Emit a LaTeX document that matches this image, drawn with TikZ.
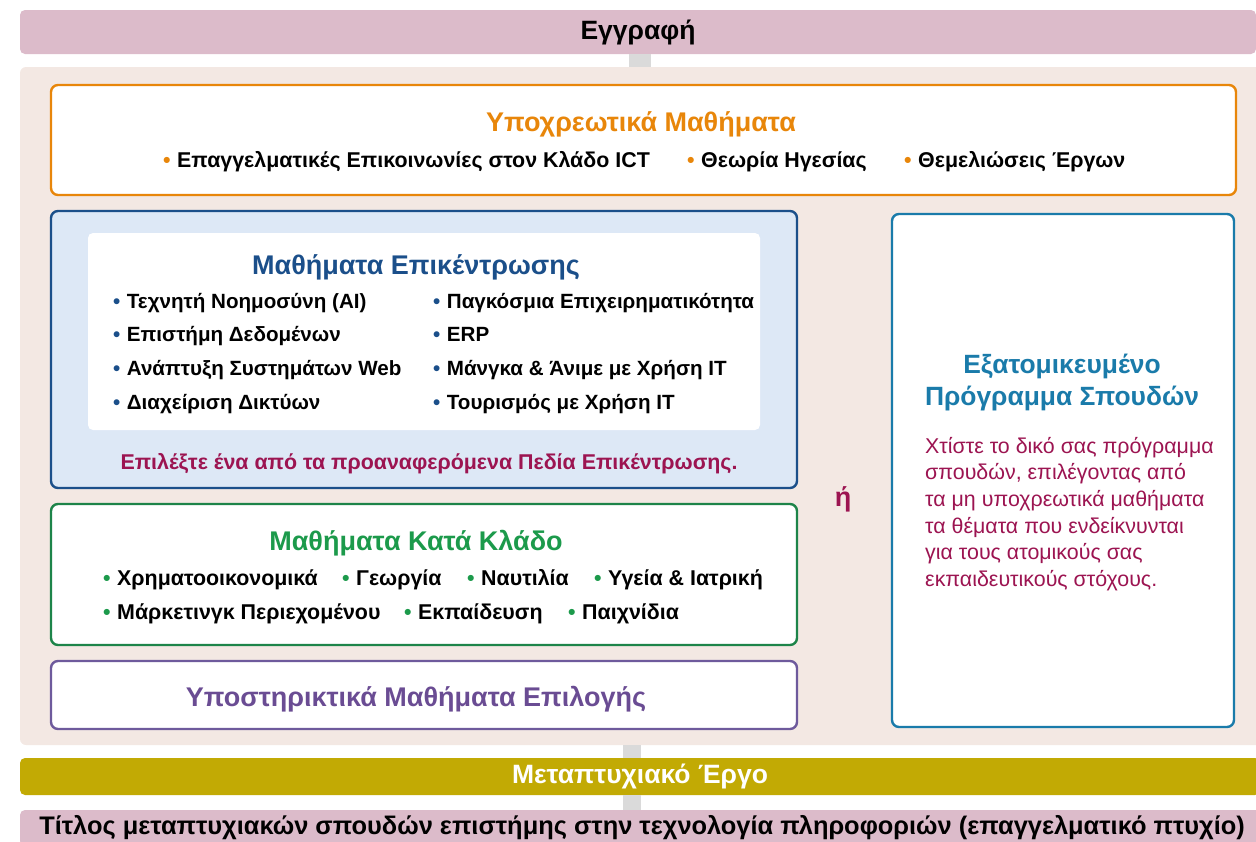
\documentclass[tikz,border=0pt]{standalone}
\usepackage{fontspec}
\setmainfont{Liberation Sans}
\definecolor{regpink}{HTML}{DCBBCA}
\definecolor{panelbg}{HTML}{F3E8E3}
\definecolor{linkgrey}{HTML}{DADADA}
\definecolor{coreorange}{HTML}{E8860A}
\definecolor{focusblue}{HTML}{1B4F8A}
\definecolor{focusfill}{HTML}{DDE8F6}
\definecolor{sectgreen}{HTML}{1D8449}
\definecolor{sectgreentxt}{HTML}{1C9A4B}
\definecolor{electpurple}{HTML}{6E5A9C}
\definecolor{electpurpletxt}{HTML}{6A4C93}
\definecolor{custblue}{HTML}{1A7BAA}
\definecolor{notemagenta}{HTML}{9C1451}
\definecolor{projolive}{HTML}{C2AA04}
\newcommand{\bul}[1]{{\color{#1}•}\hspace{6.5pt}}
\tikzset{
  bar/.style={fill=regpink, rounded corners=5pt, inner sep=0pt,
    font=\bfseries\fontsize{26.5}{30}\selectfont},
  link/.style={draw=linkgrey},
  box/.style={draw=#1, fill=white, line width=2.4pt, rounded corners=7pt, inner sep=0pt},
  boxtitle/.style={text=#1, anchor=base, inner sep=0pt, font=\bfseries\fontsize{27}{32}\selectfont},
  itm/.style={anchor=base west, inner sep=0pt, font=\bfseries\fontsize{21.4}{25}\selectfont},
  focusitm/.style={itm, font=\bfseries\fontsize{20.6}{25}\selectfont},
}
\begin{document}
\begin{tikzpicture}[x=1pt,y=-1pt]
  \clip (0,0) rectangle (1256,841);
  \node[bar, minimum width=1236pt, minimum height=44pt] (reg) at (638,32) {Εγγραφή};
  \node[fill=panelbg, rounded corners=6pt, minimum width=1250pt, minimum height=678pt] (panel) at (645,406) {};
  \node[bar, fill=projolive, text=white, minimum width=1240pt, minimum height=37pt] (proj) at (640,776.5) {Μεταπτυχιακό Έργο};
  \node[bar, minimum width=1244pt, minimum height=36pt] (degree) at (642,828)
    {\fontsize{25.4}{28}\selectfont Τίτλος μεταπτυχιακών σπουδών επιστήμης στην τεχνολογία πληροφοριών (επαγγελματικό πτυχίο)};
  \coordinate (lk1) at (639.5,0);
  \coordinate (lk2) at (632,0);
  \draw[link, line width=22pt] (reg.south -| lk1) -- (panel.north -| lk1);
  \draw[link, line width=18pt] (panel.south -| lk2) -- (proj.north -| lk2);
  \draw[link, line width=18pt] (proj.south -| lk2) -- (degree.north -| lk2);

  \node[box=coreorange, minimum width=1185pt, minimum height=110pt] (core) at (643.5,140) {};
  \node[boxtitle=coreorange] (coret) at (641,131) {Υποχρεωτικά Μαθήματα};
  \node[itm] (c1) at (163,167) {\bul{coreorange}Επαγγελματικές Επικοινωνίες στον Κλάδο ICT};
  \node[itm] (c2) at (687,167) {\bul{coreorange}Θεωρία Ηγεσίας};
  \node[itm] (c3) at (904,167) {\bul{coreorange}Θεμελιώσεις Έργων};

  \node[box=focusblue, fill=focusfill, minimum width=746pt, minimum height=277pt] (focus) at (424,349.5) {};
  \node[fill=white, rounded corners=5pt, minimum width=672pt, minimum height=197pt] (focusin) at (424,331.5) {};
  \node[boxtitle=focusblue] (focust) at (416,274) {Μαθήματα Επικέντρωσης};
  \node[focusitm] (f1) at (113,308) {\bul{focusblue}Τεχνητή Νοημοσύνη (AI)};
  \node[focusitm] (f2) at (113,341) {\bul{focusblue}Επιστήμη Δεδομένων};
  \node[focusitm] (f3) at (113,375) {\bul{focusblue}Ανάπτυξη Συστημάτων Web};
  \node[focusitm] (f4) at (113,409) {\bul{focusblue}Διαχείριση Δικτύων};
  \node[focusitm] (f5) at (433,308) {\bul{focusblue}Παγκόσμια Επιχειρηματικότητα};
  \node[focusitm] (f6) at (433,341) {\bul{focusblue}ERP};
  \node[focusitm] (f7) at (433,375) {\bul{focusblue}Μάνγκα \& Άνιμε με Χρήση IT};
  \node[focusitm] (f8) at (433,409) {\bul{focusblue}Τουρισμός με Χρήση IT};
  \node[itm, anchor=base, text=notemagenta] (focusnote) at (429,469) {Επιλέξτε ένα από τα προαναφερόμενα Πεδία Επικέντρωσης.};

  \node[box=sectgreen, minimum width=746pt, minimum height=141pt] (sector) at (424,574.5) {};
  \node[boxtitle=sectgreentxt] (sectort) at (416,550) {Μαθήματα Κατά Κλάδο};
  \node[itm] (s1) at (103,585) {\bul{sectgreentxt}Χρηματοοικονομικά};
  \node[itm] (s2) at (342,585) {\bul{sectgreentxt}Γεωργία};
  \node[itm] (s3) at (467,585) {\bul{sectgreentxt}Ναυτιλία};
  \node[itm] (s4) at (594,585) {\bul{sectgreentxt}Υγεία \& Ιατρική};
  \node[itm] (s5) at (103,619) {\bul{sectgreentxt}Μάρκετινγκ Περιεχομένου};
  \node[itm] (s6) at (404,619) {\bul{sectgreentxt}Εκπαίδευση};
  \node[itm] (s7) at (568,619) {\bul{sectgreentxt}Παιχνίδια};

  \node[box=electpurple, minimum width=746pt, minimum height=68pt] (elect) at (424,695) {};
  \node[boxtitle=electpurpletxt] (electt) at (416,706.5) {Υποστηρικτικά Μαθήματα Επιλογής};

  \node[boxtitle=notemagenta] (or) at (843,506) {ή};

  \node[box=custblue, minimum width=342pt, minimum height=513pt] (custom) at (1063,470.5) {};
  \node[boxtitle=custblue, anchor=center, align=center, font=\bfseries\fontsize{26.4}{32}\selectfont] (customt) at (1062,383)
    {Εξατομικευμένο\\Πρόγραμμα Σπουδών};
  \node[anchor=north west, inner sep=0pt, text=notemagenta, align=left,
    font=\fontsize{21.4}{26.6}\selectfont] (customnote) at (925,437)
    {Χτίστε το δικό σας πρόγραμμα\\σπουδών, επιλέγοντας από\\τα μη υποχρεωτικά μαθήματα\\τα θέματα που ενδείκνυνται\\για τους ατομικούς σας\\εκπαιδευτικούς στόχους.};
\end{tikzpicture}
\end{document}
